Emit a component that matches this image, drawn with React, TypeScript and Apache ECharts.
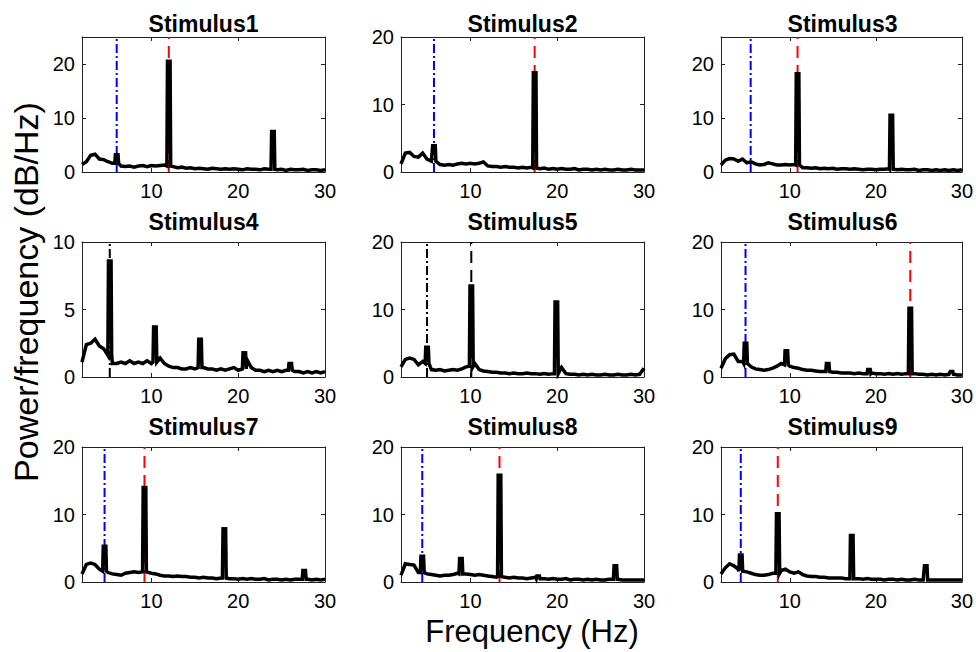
import React, { useEffect, useRef } from 'react';
import * as echarts from 'echarts';

// Frequency grid (Hz) shared by the baseline spectra
const freqGrid = [
  2, 2.5, 3, 3.5, 4, 4.5, 5, 5.5, 6, 6.5, 7, 7.5, 8, 8.5, 9, 9.5, 10, 10.5, 11, 11.5,
  12, 12.5, 13, 13.5, 14, 14.5, 15, 15.5, 16, 16.5, 17, 17.5, 18, 18.5, 19, 19.5, 20, 20.5,
  21, 21.5, 22, 22.5, 23, 23.5, 24, 24.5, 25, 25.5, 26, 26.5, 27, 27.5, 28, 28.5, 29, 29.5, 30,
];

// Baseline power (dB/Hz) on freqGrid for each stimulus
const stim1Base = [1.4, 1.9, 3.1, 3.3, 2.4, 2.3, 1.9, 1.6, 1.5, 1.1, 1.0, 1.1, 0.9, 1.1, 1.2, 1.0, 1.2, 1.1, 1.2, 1.3, 1.1, 1.0, 0.8, 0.9, 0.7, 0.8, 0.6, 0.7, 0.6, 0.5, 0.7, 0.6, 0.5, 0.6, 0.5, 0.6, 0.5, 0.4, 0.6, 0.5, 0.5, 0.4, 0.6, 0.5, 0.5, 0.4, 0.5, 0.3, 0.5, 0.4, 0.4, 0.5, 0.3, 0.4, 0.4, 0.3, 0.4];
const stim2Base = [1.2, 2.8, 2.9, 2.3, 2.2, 2.8, 1.9, 1.6, 1.5, 1.1, 1.0, 1.1, 1.0, 1.2, 1.3, 1.2, 1.3, 1.2, 1.3, 1.5, 0.9, 0.8, 0.8, 0.7, 0.8, 0.7, 0.7, 0.6, 0.7, 0.6, 0.7, 0.6, 0.5, 0.6, 0.4, 0.5, 0.4, 0.5, 0.4, 0.4, 0.5, 0.3, 0.4, 0.4, 0.3, 0.4, 0.3, 0.4, 0.3, 0.3, 0.4, 0.3, 0.3, 0.4, 0.3, 0.3, 0.3];
const stim3Base = [1.3, 2.2, 2.5, 2.4, 2.0, 2.4, 1.7, 1.9, 1.5, 1.3, 1.4, 1.7, 1.5, 1.3, 1.3, 1.4, 1.3, 1.4, 1.2, 0.8, 0.8, 0.7, 0.8, 0.6, 0.7, 0.6, 0.7, 0.5, 0.6, 0.6, 0.5, 0.6, 0.5, 0.4, 0.5, 0.5, 0.4, 0.5, 0.5, 0.6, 0.5, 0.4, 0.5, 0.4, 0.4, 0.5, 0.3, 0.4, 0.4, 0.3, 0.4, 0.3, 0.4, 0.3, 0.4, 0.3, 0.4];
const stim4Base = [1.1, 2.4, 2.5, 2.8, 2.3, 2.1, 1.8, 1.0, 1.0, 1.1, 1.0, 1.2, 1.0, 1.1, 1.0, 1.2, 1.0, 1.3, 1.4, 1.0, 0.8, 0.7, 0.7, 0.6, 0.6, 0.7, 0.6, 0.7, 0.7, 0.6, 0.6, 0.5, 0.6, 0.5, 0.6, 0.7, 0.5, 0.6, 1.3, 0.7, 0.5, 0.5, 0.4, 0.5, 0.4, 0.5, 0.4, 0.5, 0.5, 0.4, 0.4, 0.3, 0.4, 0.3, 0.4, 0.3, 0.4];
const stim5Base = [1.5, 2.6, 2.8, 2.6, 1.8, 2.3, 2.0, 1.1, 1.0, 1.1, 0.9, 1.0, 1.1, 1.0, 1.2, 1.5, 1.6, 2.0, 1.1, 0.9, 0.8, 0.7, 0.7, 0.6, 0.6, 0.5, 0.6, 0.5, 0.5, 0.6, 0.5, 0.5, 0.4, 0.5, 0.4, 0.5, 0.5, 1.4, 0.5, 0.4, 0.4, 0.3, 0.4, 0.3, 0.4, 0.3, 0.3, 0.4, 0.3, 0.3, 0.4, 0.3, 0.3, 0.4, 0.3, 0.4, 1.3];
const stim6Base = [1.3, 2.7, 3.3, 3.4, 2.3, 2.3, 2.0, 1.5, 1.2, 1.1, 1.0, 1.1, 1.3, 1.6, 2.0, 1.8, 1.6, 1.4, 1.3, 1.1, 1.0, 1.0, 0.9, 0.8, 0.8, 0.8, 0.7, 0.7, 0.6, 0.6, 0.6, 0.5, 0.6, 0.5, 0.5, 0.6, 0.5, 0.5, 0.4, 0.5, 0.4, 0.5, 0.4, 0.5, 0.5, 0.5, 0.4, 0.4, 0.3, 0.4, 0.3, 0.4, 0.3, 0.4, 0.4, 0.3, 0.3];
const stim7Base = [1.2, 2.6, 2.8, 2.6, 1.9, 1.6, 1.4, 1.2, 1.1, 1.0, 1.3, 1.4, 1.5, 1.4, 1.5, 1.5, 1.3, 1.2, 1.0, 0.9, 0.9, 0.8, 0.9, 0.8, 0.8, 0.7, 0.7, 0.6, 0.7, 0.6, 0.6, 0.5, 0.6, 0.6, 0.5, 0.5, 0.4, 0.5, 0.4, 0.5, 0.4, 0.4, 0.5, 0.3, 0.4, 0.4, 0.3, 0.4, 0.3, 0.4, 0.4, 0.4, 0.4, 0.3, 0.4, 0.3, 0.4];
const stim8Base = [1.0, 2.7, 2.6, 2.5, 1.4, 1.4, 1.2, 1.1, 1.0, 0.9, 1.0, 1.0, 1.1, 1.3, 1.2, 1.2, 1.1, 1.0, 1.1, 1.0, 0.9, 0.8, 0.7, 0.8, 0.7, 0.6, 0.7, 0.6, 0.6, 0.5, 0.6, 0.7, 0.5, 0.5, 0.4, 0.5, 0.4, 0.4, 0.5, 0.3, 0.4, 0.4, 0.3, 0.4, 0.3, 0.4, 0.3, 0.3, 0.4, 0.4, 0.4, 0.3, 0.3, 0.3, 0.3, 0.3, 0.3];
const stim9Base = [1.2, 2.1, 2.7, 2.4, 1.9, 1.6, 1.5, 1.3, 1.1, 1.0, 1.0, 1.1, 1.3, 1.3, 1.7, 1.9, 1.5, 1.3, 1.5, 1.1, 0.9, 0.8, 0.8, 0.7, 0.7, 0.6, 0.6, 0.6, 0.6, 0.5, 0.5, 0.5, 0.5, 0.4, 0.5, 0.4, 0.4, 0.4, 0.3, 0.4, 0.4, 0.3, 0.4, 0.3, 0.3, 0.4, 0.3, 0.3, 0.3, 0.3, 0.3, 0.3, 0.3, 0.3, 0.3, 0.3, 0.3];

// Spectral peaks: [frequency Hz, peak power, power at the foot of the peak]
const stim1Peaks = [[6, 3.2, 1.6], [12, 20.5, 1.1], [24, 7.5, 0.5]];
const stim2Peaks = [[5.8, 3.9, 1.6], [17.4, 14.7, 0.6]];
const stim3Peaks = [[10.9, 18.2, 1.3], [21.8, 10.5, 0.5]];
const stim4Peaks = [[5.2, 8.6, 1.6], [10.4, 3.7, 1.1], [15.6, 2.8, 0.7], [20.7, 1.8, 0.6], [26.0, 1.0, 0.5]];
const stim5Peaks = [[5.0, 4.4, 2.0], [10.1, 13.5, 1.6], [19.9, 11.1, 0.5]];
const stim6Peaks = [[4.85, 5.0, 2.0], [9.6, 3.9, 1.8], [14.4, 2.0, 0.8], [19.2, 1.1, 0.5], [24.0, 10.2, 0.5], [28.8, 0.8, 0.4]];
const stim7Peaks = [[4.6, 5.3, 1.6], [9.2, 14.0, 1.5], [18.4, 7.9, 0.6], [27.6, 1.7, 0.4]];
const stim8Peaks = [[4.45, 3.8, 1.4], [8.9, 3.5, 1.2], [13.35, 15.8, 0.8], [17.8, 0.9, 0.5], [26.7, 2.4, 0.4]];
const stim9Peaks = [[4.3, 4.0, 1.6], [8.6, 10.1, 1.3], [17.2, 6.9, 0.5], [25.8, 2.4, 0.3]];

// Reference frequency markers: [frequency Hz, kind]
const stim1Markers: [number, string][] = [[6, 'blue'], [12, 'red']];
const stim2Markers: [number, string][] = [[5.8, 'blue'], [17.4, 'red']];
const stim3Markers: [number, string][] = [[5.45, 'blue'], [10.9, 'red']];
const stim4Markers: [number, string][] = [[5.2, 'blackDashDot']];
const stim5Markers: [number, string][] = [[5.0, 'blackDashDot'], [10.1, 'blackDash']];
const stim6Markers: [number, string][] = [[4.85, 'blue'], [24.0, 'red']];
const stim7Markers: [number, string][] = [[4.6, 'blue'], [9.2, 'red']];
const stim8Markers: [number, string][] = [[4.45, 'blue'], [13.35, 'red']];
const stim9Markers: [number, string][] = [[4.3, 'blue'], [8.6, 'red']];

const titles = ['Stimulus1', 'Stimulus2', 'Stimulus3', 'Stimulus4', 'Stimulus5', 'Stimulus6', 'Stimulus7', 'Stimulus8', 'Stimulus9'];
const yMax = [25, 20, 25, 10, 20, 20, 20, 20, 20];
const yTickLabels = [[0, 10, 20], [0, 10, 20], [0, 10, 20], [0, 5, 10], [0, 10, 20], [0, 10, 20], [0, 10, 20], [0, 10, 20], [0, 10, 20]];
const xTickLabels = [10, 20, 30];
const xMin = 2;
const xMax = 30;

const bases = [stim1Base, stim2Base, stim3Base, stim4Base, stim5Base, stim6Base, stim7Base, stim8Base, stim9Base];
const peaksAll = [stim1Peaks, stim2Peaks, stim3Peaks, stim4Peaks, stim5Peaks, stim6Peaks, stim7Peaks, stim8Peaks, stim9Peaks];
const markersAll = [stim1Markers, stim2Markers, stim3Markers, stim4Markers, stim5Markers, stim6Markers, stim7Markers, stim8Markers, stim9Markers];

const FONT = "'Liberation Sans', Arial, Helvetica, sans-serif";
const colLeft = [82, 401, 721];
const rowTop = [37, 242, 447];
const gridW = 243;
const gridH = 135;
const titleY = [24, 222, 427];

const markerStyle: Record<string, { color: string; type: number[] }> = {
  blue: { color: '#0000ff', type: [9, 3, 2, 3] },
  red: { color: '#ff0000', type: [12, 7] },
  blackDashDot: { color: '#000000', type: [9, 3, 2, 3] },
  blackDash: { color: '#000000', type: [12, 7] },
};

function buildSpectrum(base: number[], peaks: number[][]) {
  const pts: number[][] = [];
  freqGrid.forEach((f, i) => {
    if (!peaks.some((p) => Math.abs(p[0] - f) < 0.25)) pts.push([f, base[i]]);
  });
  peaks.forEach(([f, h, b]) => {
    pts.push([f - 0.22, b], [f - 0.15, h], [f + 0.15, h], [f + 0.22, b]);
  });
  pts.sort((a, b) => a[0] - b[0]);
  return pts;
}

function buildOption() {
  const grid: any[] = [];
  const xAxis: any[] = [];
  const yAxis: any[] = [];
  const series: any[] = [];
  const graphic: any[] = [];
  const axisLineStyle = { color: '#222', width: 1 };
  const labelStyle = { color: '#000', fontSize: 20, fontFamily: FONT };

  for (let i = 0; i < 9; i++) {
    const r = Math.floor(i / 3);
    const c = i % 3;
    grid.push({ left: colLeft[c], top: rowTop[r], width: gridW, height: gridH, containLabel: false });
    const innerY = yTickLabels[i].filter((v) => v > 0 && v < yMax[i]);
    xAxis.push({
      type: 'value', gridIndex: i, min: xMin, max: xMax, position: 'bottom',
      axisLine: { show: true, onZero: false, lineStyle: axisLineStyle },
      axisTick: { show: true, inside: true, length: 4, customValues: xTickLabels, lineStyle: axisLineStyle },
      axisLabel: { show: true, customValues: xTickLabels, margin: 9, ...labelStyle },
      splitLine: { show: false },
    });
    xAxis.push({
      type: 'value', gridIndex: i, min: xMin, max: xMax, position: 'top',
      axisLine: { show: true, onZero: false, lineStyle: axisLineStyle },
      axisTick: { show: true, inside: true, length: 4, customValues: [10, 20], lineStyle: axisLineStyle },
      axisLabel: { show: false },
      splitLine: { show: false },
    });
    yAxis.push({
      type: 'value', gridIndex: i, min: 0, max: yMax[i], position: 'left',
      axisLine: { show: true, onZero: false, lineStyle: axisLineStyle },
      axisTick: { show: true, inside: true, length: 4, customValues: yTickLabels[i], lineStyle: axisLineStyle },
      axisLabel: { show: true, customValues: yTickLabels[i], margin: 7, ...labelStyle },
      splitLine: { show: false },
    });
    yAxis.push({
      type: 'value', gridIndex: i, min: 0, max: yMax[i], position: 'right',
      axisLine: { show: true, onZero: false, lineStyle: axisLineStyle },
      axisTick: { show: true, inside: true, length: 4, customValues: innerY, lineStyle: axisLineStyle },
      axisLabel: { show: false },
      splitLine: { show: false },
    });

    markersAll[i].forEach(([f, kind]) => {
      const st = markerStyle[kind];
      series.push({
        type: 'line', xAxisIndex: 2 * i, yAxisIndex: 2 * i, silent: true,
        data: [[f, 0], [f, yMax[i]]], symbol: 'none', z: 1,
        lineStyle: { color: st.color, width: 2, type: st.type },
      });
    });
    series.push({
      type: 'line', xAxisIndex: 2 * i, yAxisIndex: 2 * i, silent: true,
      data: buildSpectrum(bases[i], peaksAll[i]), symbol: 'none', z: 2,
      lineStyle: { color: '#000', width: 3.5, join: 'miter' },
    });

    graphic.push({
      type: 'text', x: colLeft[c] + gridW / 2, y: titleY[r], silent: true,
      style: { text: titles[i], fill: '#000', font: `bold 23px ${FONT}`, textAlign: 'center', textVerticalAlign: 'middle' },
    });
  }

  graphic.push({
    type: 'text', x: 26, y: 292, rotation: Math.PI / 2, silent: true,
    style: { text: 'Power/frequency (dB/Hz)', fill: '#000', font: `34px ${FONT}`, textAlign: 'center', textVerticalAlign: 'middle' },
  });
  graphic.push({
    type: 'text', x: 532, y: 631, silent: true,
    style: { text: 'Frequency (Hz)', fill: '#000', font: `31px ${FONT}`, textAlign: 'center', textVerticalAlign: 'middle' },
  });

  return {
    animation: false,
    backgroundColor: '#ffffff',
    grid, xAxis, yAxis, series, graphic,
  };
}

export default function App() {
  const ref = useRef<HTMLDivElement>(null);
  useEffect(() => {
    if (!ref.current) return;
    const chart = echarts.init(ref.current, undefined, { renderer: 'svg' });
    chart.setOption(buildOption() as any);
    return () => chart.dispose();
  }, []);
  return <div ref={ref} style={{ position: 'fixed', left: 0, top: 0, width: 976, height: 652, background: '#fff' }} />;
}
